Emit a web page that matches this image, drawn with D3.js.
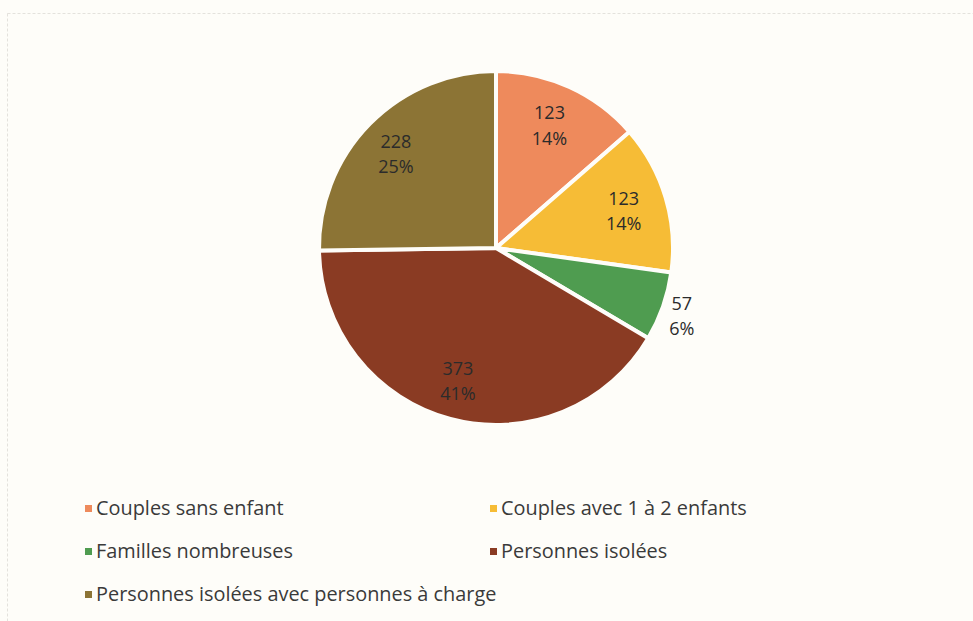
<!DOCTYPE html>
<html>
<head>
<meta charset="utf-8">
<script src="https://cdn.jsdelivr.net/npm/d3@7"></script>
<style>
	html, body { margin: 0; padding: 0; background: #fefdf9; }
	svg { display: block; }
	.slice-label { font-family: 'Open Sans', sans-serif; font-size: 18px; fill: #2b2b2b; }
	.legend text { font-family: 'Open Sans', sans-serif; font-size: 19.9px; fill: #3a3a3a; }
</style>
</head>
<body>
<div id="chart"></div>
<script>
// data
const categories = [
	'Couples sans enfant',
	'Couples avec 1 à 2 enfants',
	'Familles nombreuses',
	'Personnes isolées',
	'Personnes isolées avec personnes à charge'
]
const values = [123, 123, 57, 373, 228]
const colors = ['#ee8a5c', '#f6bc36', '#4f9c50', '#8a3b23', '#8c7435']

const width = 973,
		height = 621,
		cx = 496,
		cy = 248,
		radius = 177

let svg, pieMkr, arcMkr, labelArc, outerArc, colorScMkr, arcs

function buildSVG() {
	svg = d3.select('#chart')
		.append('svg')
			.attr('width', width)
			.attr('height', height)

	// faint frame of the scanned page
	svg.append('rect')
		.attr('x', 7.5).attr('y', 13.5)
		.attr('width', width).attr('height', height)
		.attr('fill', 'none')
		.attr('stroke', '#e4e2dd')
		.attr('stroke-dasharray', '3,2')
}

function buildLayout() {
	pieMkr = d3.pie().sort(null).value(d => d.value)
	arcs = pieMkr(categories.map((c, i) => ({ name: c, value: values[i] })))

	arcMkr = d3.arc().innerRadius(0).outerRadius(radius)
	labelArc = d3.arc().innerRadius(radius * 0.77).outerRadius(radius * 0.77)
	outerArc = d3.arc().innerRadius(radius * 1.13).outerRadius(radius * 1.13)

	colorScMkr = d3.scaleOrdinal().domain(categories).range(colors)
}

function drawPie() {
	const total = d3.sum(values)
	const g = svg.append('g')
		.attr('transform', `translate(${cx}, ${cy})`)

	g.selectAll('.slice')
		.data(arcs)
		.enter().append('path')
			.classed('slice', true)
			.attr('d', arcMkr)
			.attr('fill', d => colorScMkr(d.data.name))
			.attr('stroke', '#fefdf9')
			.attr('stroke-width', 4)
			.attr('stroke-linejoin', 'round')

	const labels = g.selectAll('.slice-label')
		.data(arcs)
		.enter().append('text')
			.classed('slice-label', true)
			.attr('text-anchor', 'middle')
			.attr('transform', d => {
				// small slices go outside
				let p = (d.endAngle - d.startAngle) < 0.5 ? outerArc.centroid(d) : labelArc.centroid(d)
				return `translate(${p[0] - 3}, ${p[1]})`
			})

	labels.append('tspan')
		.attr('x', 0).attr('dy', '-0.25em')
		.text(d => d.data.value)
	labels.append('tspan')
		.attr('x', 0).attr('dy', '1.4em')
		.text(d => Math.round(d.data.value / total * 100) + '%')
}

function drawLegend() {
	const cols = [85, 490],
			top = 508,
			rowH = 43

	const items = svg.append('g').classed('legend', true)
		.selectAll('g')
		.data(categories)
		.enter().append('g')
			.attr('transform', (d, i) => `translate(${cols[i % 2]}, ${top + Math.floor(i / 2) * rowH})`)

	items.append('rect')
		.attr('x', 0).attr('y', -3)
		.attr('width', 7).attr('height', 7)
		.attr('fill', d => colorScMkr(d))

	items.append('text')
		.attr('x', 11)
		.attr('dy', '0.35em')
		.text(d => d)
}

buildSVG()
buildLayout()
drawPie()
drawLegend()
</script>
</body>
</html>
